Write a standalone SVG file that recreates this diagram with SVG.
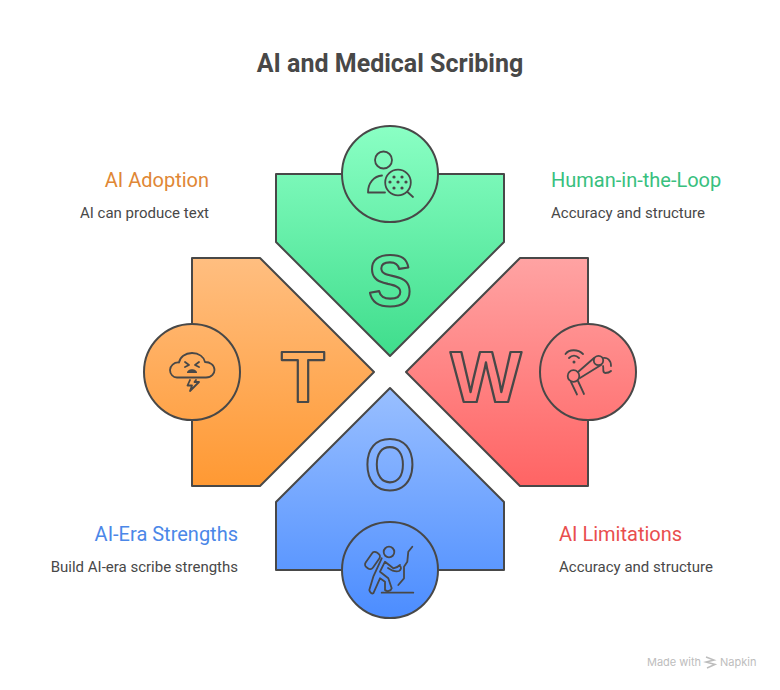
<svg xmlns="http://www.w3.org/2000/svg" width="780" height="690" viewBox="0 0 780 690">
<style>
.sh{stroke:#484848;stroke-width:2;stroke-linejoin:round}
.ic{fill:none;stroke:#484848;stroke-width:1.8;stroke-linecap:round;stroke-linejoin:round}
.dot{fill:#484848}
.let{font-family:"Liberation Sans",Arimo,sans-serif;font-weight:700;font-size:72px;fill:none;stroke:#484848;stroke-width:2.200;stroke-linejoin:round;text-anchor:middle}
.title{font-family:"Roboto","Liberation Sans",sans-serif;font-weight:700;font-size:25px;fill:#484848;text-anchor:middle}
.h{font-family:"Roboto","Liberation Sans",sans-serif;font-weight:400;font-size:20px}
.d{font-family:"Roboto","Liberation Sans",sans-serif;font-size:15px;fill:#484848}
</style>
<defs>
<linearGradient id="gg" gradientUnits="userSpaceOnUse" x1="0" y1="126" x2="0" y2="356"><stop offset="0" stop-color="#8AFFC4"/><stop offset="1" stop-color="#3FDD8C"/></linearGradient>
<linearGradient id="go" gradientUnits="userSpaceOnUse" x1="0" y1="258" x2="0" y2="486"><stop offset="0" stop-color="#FFBE80"/><stop offset="1" stop-color="#FF9933"/></linearGradient>
<linearGradient id="gr" gradientUnits="userSpaceOnUse" x1="0" y1="258" x2="0" y2="486"><stop offset="0" stop-color="#FFA3A3"/><stop offset="1" stop-color="#FF6464"/></linearGradient>
<linearGradient id="gb" gradientUnits="userSpaceOnUse" x1="0" y1="388" x2="0" y2="618"><stop offset="0" stop-color="#99BFFF"/><stop offset="1" stop-color="#4C8DFF"/></linearGradient>
</defs>
<text class="title" x="390" y="72">AI and Medical Scribing</text>
<g id="connectors"></g>
<g id="node-s">
<path class="sh" fill="url(#gg)" d="M276,174H504V242L390,356L276,242Z"/>
<circle class="sh" fill="url(#gg)" cx="390" cy="174" r="48"/>
<text class="let" transform="translate(390,306) scale(0.92,1)">S</text>
<circle class="ic" cx="383.500" cy="160" r="8.500"/>
<path class="ic" d="M382,175.500C374,176 368,183 368,192.500H385"/>
<circle class="ic" cx="398" cy="182.500" r="12.800"/>
<path class="ic" d="M407.500,192L413,197"/>
<circle class="dot" cx="394" cy="177" r="1.600"/><circle class="dot" cx="402" cy="177" r="1.600"/><circle class="dot" cx="390" cy="182" r="1.600"/><circle class="dot" cx="398" cy="182" r="1.600"/><circle class="dot" cx="406" cy="182" r="1.600"/><circle class="dot" cx="394" cy="188" r="1.600"/><circle class="dot" cx="402" cy="188" r="1.600"/>
<text class="h" x="551" y="187" fill="#38C07E">Human-in-the-Loop</text>
<text class="d" x="551" y="218">Accuracy and structure</text>
</g>
<g id="node-t">
<path class="sh" fill="url(#go)" d="M192,258H260L374,372L260,486H192Z"/>
<circle class="sh" fill="url(#go)" cx="192" cy="372" r="48"/>
<text class="let" x="303" y="402">T</text>
<path class="ic" d="M177,377.500H206C212,377.500 214.500,373 214.500,370C214.500,365 210,362 205,362C204,357 199,353 192,353C185,353 180,357 179,362.500C174,362 170,366 170,370C170,374 173,377.500 177,377.500Z"/>
<path class="ic" d="M185,362L189,365L185,367M199,362L195,365L199,367"/>
<path class="dot" d="M187,373C187,368 197,368 197,373Z"/>
<path class="ic" d="M190,380L187.500,385.500H192L190,391L199,382H194.500L196,380"/>
<text class="h" x="209" y="187" fill="#E08735" text-anchor="end">AI Adoption</text>
<text class="d" x="209" y="218" text-anchor="end">AI can produce text</text>
</g>
<g id="node-w">
<path class="sh" fill="url(#gr)" d="M588,258H520L406,372L520,486H588Z"/>
<circle class="sh" fill="url(#gr)" cx="588" cy="372" r="48"/>
<text class="let" transform="translate(486,402) scale(1.05,1)">W</text>
<path class="ic" d="M565.500,354C569,349 578,349 583,354M569,358C572,355 576,355 579,358"/>
<circle class="dot" cx="574" cy="362" r="1.500"/>
<circle class="ic" cx="573.500" cy="376" r="5.800"/>
<circle class="ic" cx="598.500" cy="360.500" r="4.700"/>
<path class="ic" d="M578,372L594,358M580,378L601,365"/>
<path class="ic" d="M603,358C607,357 611,360 611,366M603,366C604,370 602,372 605,373C608,373 610,372 611,371"/>
<path class="ic" d="M571,382L577,394.500M578,381L584,394"/>
<text class="h" x="559" y="541" fill="#E94E4E">AI Limitations</text>
<text class="d" x="559" y="572">Accuracy and structure</text>
</g>
<g id="node-o">
<path class="sh" fill="url(#gb)" d="M276,570H504V502L390,388L276,502Z"/>
<circle class="sh" fill="url(#gb)" cx="390" cy="570" r="48"/>
<text class="let" transform="translate(390,490) scale(0.9,1)">O</text>
<circle class="ic" cx="389" cy="552" r="5.300"/>
<rect class="ic" x="-4.500" y="-9" width="9" height="18" rx="3.500" transform="translate(372.500,560.500) rotate(35)"/>
<path class="ic" d="M381.700,558.300L373.300,576.700L369.300,590C370,593 372,594 373.300,593.300L380,578.300L385,581.700L385,590C387,592 391,591 391.700,588.300L388.300,578.300L380,571.700L385,561.700L393.300,568.300C396,568 399,566 400,565"/>
<path class="ic" d="M399.500,566C402,567 401,570 399,571C396,572 391,570 388,568"/>
<path class="ic" d="M412.300,546.700L408.300,551.700L407.300,561.700L404,566.700L404,578.300L398.300,585"/>
<path class="ic" d="M381.700,592.700H413.300"/>
<text class="h" x="238" y="541" fill="#4B87E8" text-anchor="end">AI-Era Strengths</text>
<text class="d" x="238" y="572" text-anchor="end">Build AI-era scribe strengths</text>
</g>
<g id="watermark">
<text x="647" y="666" font-family="Inter,'Liberation Sans',sans-serif" font-size="11" fill="#BDBDBD">Made with</text>
<path d="M706,657L714,660L706,662L715,664.500L707,668" fill="none" stroke="#BDBDBD" stroke-width="1.500"/>
<text x="720" y="666" font-family="Inter,'Liberation Sans',sans-serif" font-size="11" fill="#BDBDBD">Napkin</text>
</g>
</svg>
